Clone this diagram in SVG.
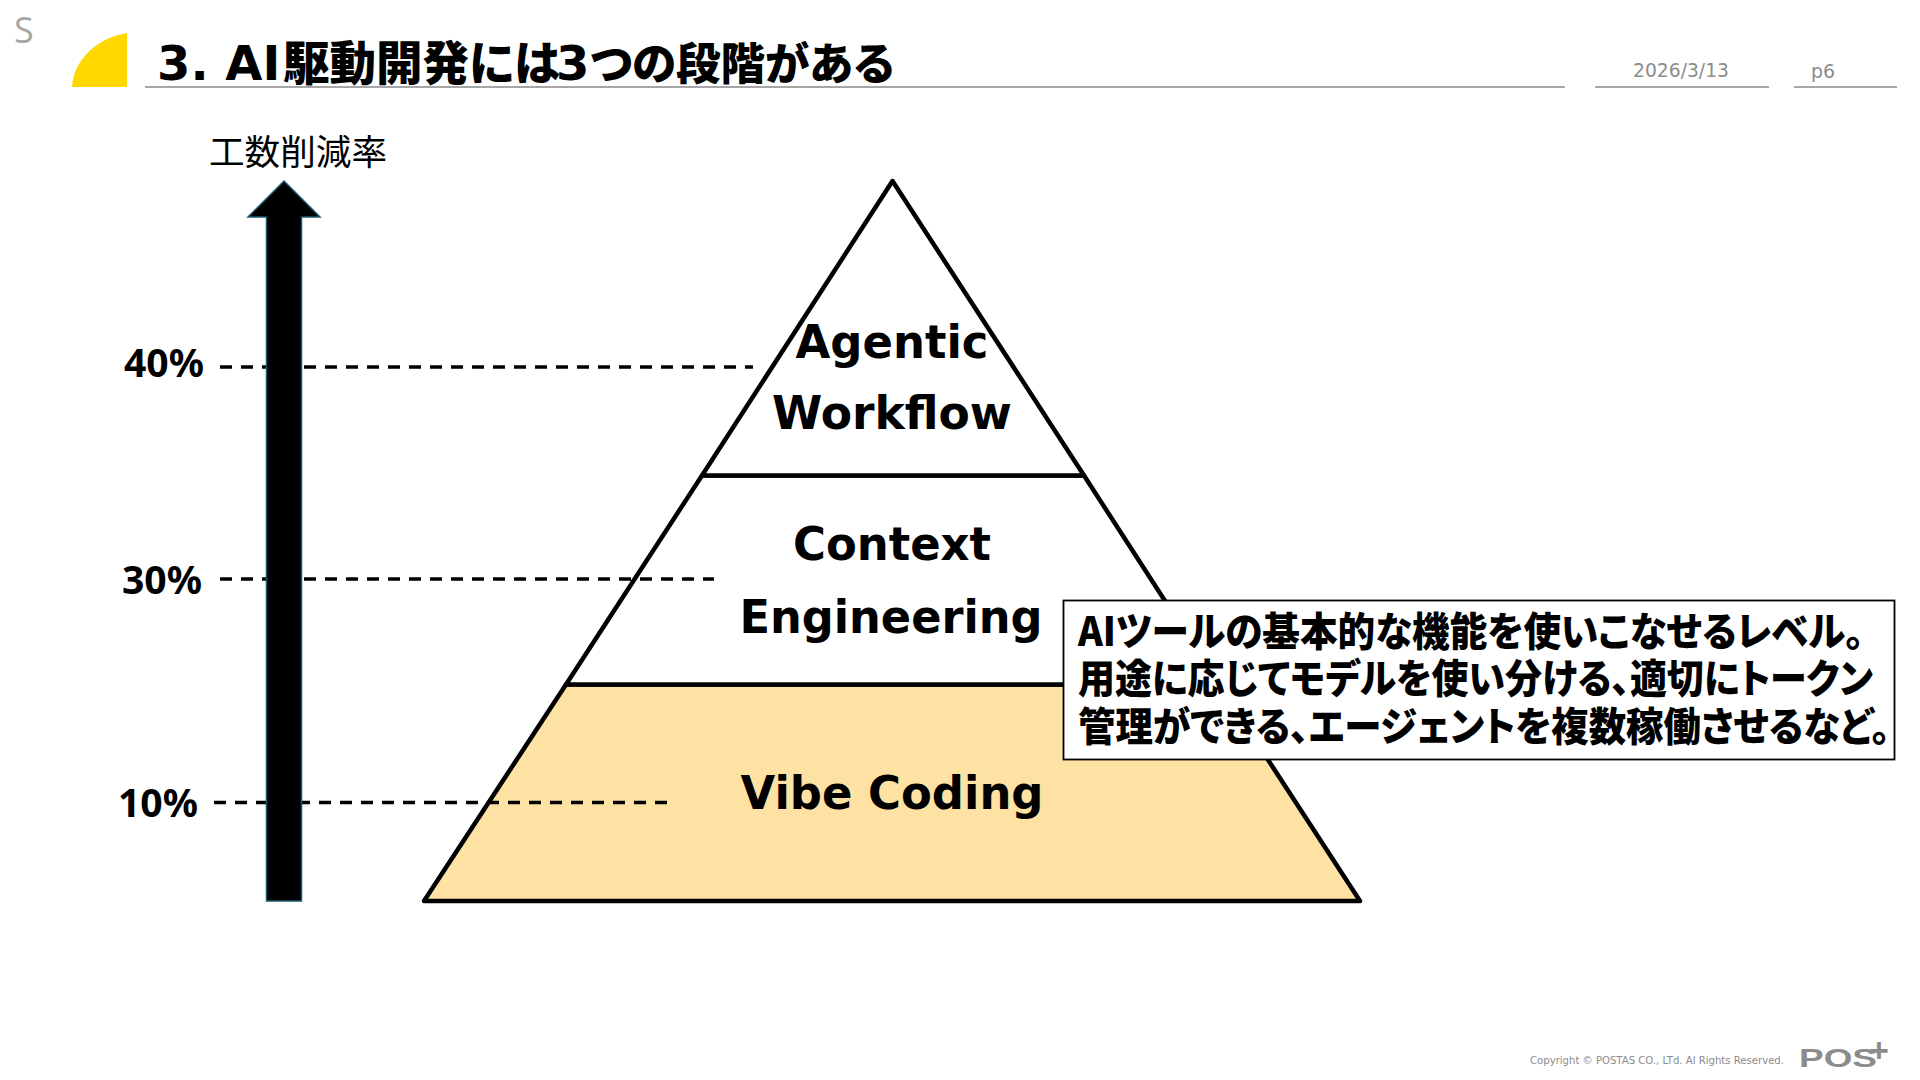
<svg xmlns="http://www.w3.org/2000/svg" width="1920" height="1080" viewBox="0 0 1920 1080">
<style>
text{font-family:"Liberation Sans","Noto Sans CJK JP",sans-serif;fill:#000}
.jp{font-family:"Noto Sans CJK JP","Liberation Sans",sans-serif}
.title{font-family:"DejaVu Sans","Noto Sans CJK JP",sans-serif;font-weight:700;font-size:48px}
.cj{font-family:"Noto Sans CJK JP",sans-serif;font-weight:900;font-feature-settings:"palt"}
.lvl{font-family:"DejaVu Sans","Noto Sans CJK JP",sans-serif;font-weight:700;font-size:47px;text-anchor:middle}
.pct{font-family:"Noto Sans",sans-serif;font-weight:700;font-size:40px}
.call{font-family:"Noto Sans CJK JP",sans-serif;font-weight:900;font-size:40px;font-feature-settings:"palt"}
.rule{stroke:#a6a6a6;stroke-width:1.8;fill:none}
.dash{stroke:#000;stroke-width:3.5;stroke-dasharray:12 9;fill:none}
.gray{font-family:"DejaVu Sans",sans-serif;fill:#8c8c8c}
.tri{stroke:#000;stroke-width:4.500;stroke-linejoin:round}
</style>
<rect width="1920" height="1080" fill="#fff"/>
<g id="header">
<text x="14" y="43" font-size="36" style="font-family:'Open Sans',sans-serif;fill:#a6a6a6">S</text>
<path d="M72 87C73 62 95 38 127 33V87Z" fill="#ffd800"/>
<text class="title" y="80"><tspan x="157">3. AI</tspan><tspan class="cj" x="283" font-size="46.500">駆動開発には</tspan><tspan x="556">3</tspan><tspan class="cj" x="590" font-size="44.500">つの段階がある</tspan></text>
<path class="rule" d="M145 87H1565M1595 87H1769M1794 87H1897"/>
<text class="gray" x="1633" y="77" font-size="19" textLength="96" lengthAdjust="spacingAndGlyphs">2026/3/13</text>
<text class="gray" x="1811" y="78" font-size="19">p6</text>
</g>
<g id="pyramid-bottom">
<path class="tri" d="M566 684.500H1219L1360 901H424Z" fill="#fde2a4"/>
<text class="lvl" x="892" y="809" textLength="303" lengthAdjust="spacingAndGlyphs">Vibe Coding</text>
</g>
<g id="pyramid-middle">
<path class="tri" d="M702 475.500H1084L1219 684.500H566Z" fill="#fff"/>
<text class="lvl" x="892" y="560" textLength="198" lengthAdjust="spacingAndGlyphs">Context</text>
<text class="lvl" x="891" y="633" textLength="303" lengthAdjust="spacingAndGlyphs">Engineering</text>
</g>
<g id="pyramid-top">
<path class="tri" d="M892.500 181L1084 475.500H702Z" fill="#fff"/>
<text class="lvl" x="892" y="358" textLength="193" lengthAdjust="spacingAndGlyphs">Agentic</text>
<text class="lvl" x="892" y="429" textLength="240" lengthAdjust="spacingAndGlyphs">Workflow</text>
</g>
<g id="connectors">
<path class="dash" d="M220 367H753M220 579H714M214 802.500H667"/>
</g>
<g id="axis">
<path d="M266.500 901V217H248L284 181L320 217H301.500V901Z" fill="#000" stroke="#1d5a6b" stroke-width="1.500"/>
<text class="jp" x="209" y="165" font-size="35" textLength="178" lengthAdjust="spacingAndGlyphs">工数削減率</text>
<text class="pct" x="124" y="377" textLength="80" lengthAdjust="spacingAndGlyphs">40%</text>
<text class="pct" x="122" y="594" textLength="80" lengthAdjust="spacingAndGlyphs">30%</text>
<text class="pct" x="118" y="817" textLength="80" lengthAdjust="spacingAndGlyphs">10%</text>
</g>
<g id="callout">
<rect x="1063.500" y="600.500" width="831" height="159" fill="#fff" stroke="#000" stroke-width="1.800"/>
<text class="call" x="1078" y="646" textLength="786" lengthAdjust="spacingAndGlyphs">AIツールの基本的な機能を使いこなせるレベル。</text>
<text class="call" x="1078" y="693" textLength="795" lengthAdjust="spacingAndGlyphs">用途に応じてモデルを使い分ける、適切にトークン</text>
<text class="call" x="1078" y="741" textLength="812" lengthAdjust="spacingAndGlyphs">管理ができる、エージェントを複数稼働させるなど。</text>
</g>
<g id="footer">
<text class="gray" x="1530" y="1064" font-size="11" textLength="254" lengthAdjust="spacingAndGlyphs">Copyright © POSTAS CO., LTd. Al Rights Reserved.</text>
<text x="1799" y="1067" font-size="26" font-weight="700" textLength="78" lengthAdjust="spacingAndGlyphs" style="fill:#8c8c8c">POS</text>
<text x="1869" y="1062" font-size="34" font-weight="700" style="fill:#8c8c8c">+</text>
</g>
</svg>
